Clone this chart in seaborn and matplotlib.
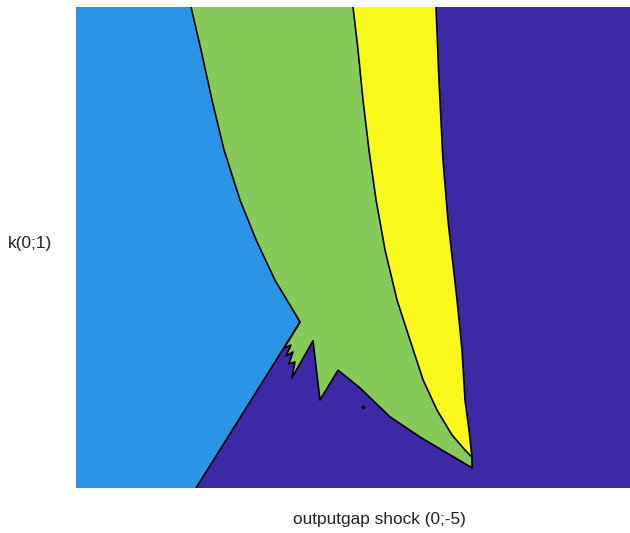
import numpy as np
import matplotlib
matplotlib.use("Agg")
import matplotlib.pyplot as plt
import seaborn as sns

# region boundaries (x = outputgap shock, y = k)
# blue / green, from the top edge down to the peak
bg_x = [-3.962, -3.872, -3.773, -3.664, -3.520, -3.375, -3.204, -3.042, -2.978]
bg_y = [1.000, 0.911, 0.807, 0.703, 0.599, 0.516, 0.432, 0.370, 0.345]

# blue / purple, from the peak to the bottom edge
bp_x = [-2.978, -3.917]
bp_y = [0.345, 0.000]

# lower edge of green, from the peak to the tip
gp_x = [-2.978, -3.087, -3.123, -3.060, -3.105, -3.042, -3.078, -3.024, -3.051,
        -2.861, -2.798, -2.635, -2.437, -2.166, -1.895, -1.625, -1.426]
gp_y = [0.345, 0.304, 0.291, 0.297, 0.274, 0.283, 0.258, 0.262, 0.229,
        0.306, 0.183, 0.245, 0.208, 0.148, 0.106, 0.069, 0.042]

# green / yellow, top edge down to the tip
gy_x = [-2.500, -2.455, -2.410, -2.356, -2.292, -2.211, -2.103, -1.986, -1.868,
        -1.742, -1.606, -1.489, -1.426]
gy_y = [1.000, 0.911, 0.807, 0.703, 0.599, 0.495, 0.391, 0.308, 0.225,
        0.162, 0.110, 0.079, 0.064]

# yellow / purple, top edge down to the tip
yp_x = [-1.751, -1.724, -1.688, -1.643, -1.561, -1.516, -1.489, -1.453, -1.426]
yp_y = [1.000, 0.848, 0.682, 0.557, 0.391, 0.287, 0.183, 0.121, 0.064]

# stray point inside the purple area
dot_x = [-2.410]
dot_y = [0.168]

x_min, x_max = -5, 0
y_min, y_max = 0, 1

c_blue = "#2B94E6"
c_green = "#86CB5A"
c_yellow = "#F8F81A"
c_purple = "#3D28A6"

sns.set_theme(style="white")
plt.rcParams["font.family"] = ["Liberation Sans", "DejaVu Sans"]

fig = plt.figure(figsize=(6.3, 5.33), dpi=100)
ax = fig.add_axes([76 / 630, 45 / 533, 554 / 630, 481 / 533])
ax.set_facecolor(c_purple)

# blue region: left edge, blue/green boundary, blue/purple boundary
blue_x = [x_min, x_min] + bg_x + bp_x[1:]
blue_y = [y_min, y_max] + bg_y + bp_y[1:]
ax.fill(blue_x, blue_y, color=c_blue, lw=0)

# green region
green_x = bg_x + gp_x[1:] + gy_x[::-1]
green_y = bg_y + gp_y[1:] + gy_y[::-1]
ax.fill(green_x, green_y, color=c_green, lw=0)

# yellow region
yellow_x = gy_x + yp_x[::-1]
yellow_y = gy_y + yp_y[::-1]
ax.fill(yellow_x, yellow_y, color=c_yellow, lw=0)

# black boundary lines
for bx, by in [(bg_x, bg_y), (bp_x, bp_y), (gp_x, gp_y), (gy_x, gy_y), (yp_x, yp_y),
               ([gp_x[-1], gy_x[-1]], [gp_y[-1], gy_y[-1]])]:
    sns.lineplot(x=bx, y=by, sort=False, estimator=None, color="black", lw=1.2, ax=ax)
ax.scatter(dot_x, dot_y, s=3, color="black")

ax.set_xlim(x_min, x_max)
ax.set_ylim(y_min, y_max)
ax.set_xticks([])
ax.set_yticks([])
for s in ax.spines.values():
    s.set_visible(False)

ax.set_xlabel("outputgap shock (0;-5)", fontsize=12.4, color="#222222")
ax.xaxis.set_label_coords(0.547, -0.05)
ax.set_ylabel("k(0;1)", fontsize=12.4, rotation=0, ha="center", va="center", color="#222222")
ax.yaxis.set_label_coords(-0.083, 0.509)

fig.savefig("out.png", dpi=100)
